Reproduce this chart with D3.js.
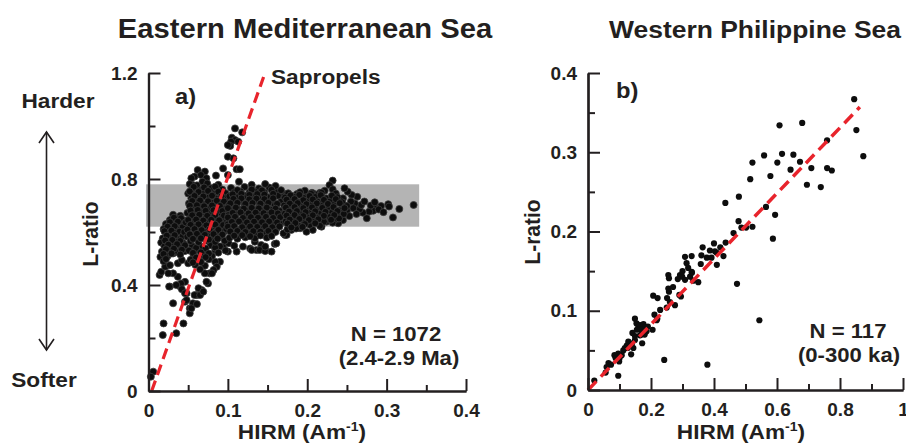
<!DOCTYPE html>
<html><head><meta charset="utf-8">
<script src="https://cdn.jsdelivr.net/npm/d3@7"></script>
<style>
body{margin:0;background:#fff}
svg{display:block}
text{font-family:"Liberation Sans",Arial,Helvetica,sans-serif;font-weight:bold;fill:#231f20}
</style>
</head><body>
<svg id="c" width="906" height="448"></svg>
<script>
// ---------- DATA ----------
// Panel a: Eastern Mediterranean Sea, [HIRM, L-ratio]
const emSparse = [
 [0.109,0.991],[0.118,0.976],[0.105,0.956],[0.109,0.947],[0.104,0.941],[0.113,0.941],[0.103,0.925],[0.100,0.928],
 [0.100,0.884],[0.107,0.878],[0.094,0.840],[0.111,0.837],[0.115,0.837],[0.100,0.815],[0.114,0.790],[0.085,0.813],
 [0.062,0.834],[0.071,0.828],[0.066,0.815],[0.058,0.809],[0.073,0.803],[0.068,0.790],[0.054,0.803],[0.056,0.777],
 [0.334,0.702],[0.316,0.687],[0.308,0.655],[0.302,0.705],[0.303,0.696],[0.293,0.698],[0.287,0.689],[0.283,0.680],
 [0.278,0.677],[0.275,0.652],[0.270,0.673],[0.266,0.686],[0.268,0.702],[0.263,0.733],[0.260,0.708],[0.256,0.740],
 [0.251,0.752],[0.247,0.765],[0.245,0.727],[0.232,0.794],[0.228,0.777],[0.232,0.761],[0.222,0.756],[0.216,0.748],
 [0.209,0.743],[0.206,0.748],[0.201,0.740],[0.197,0.756],[0.191,0.746],[0.187,0.743],[0.183,0.733],[0.177,0.727],
 [0.174,0.743],[0.170,0.733],[0.168,0.721],
 [0.245,0.645],[0.239,0.633],[0.232,0.635],[0.224,0.639],[0.218,0.620],[0.207,0.608],[0.199,0.601],[0.172,0.589],
 [0.182,0.620],[0.191,0.614],[0.174,0.589],[0.180,0.608],[0.170,0.595],
 [0.255,0.715],[0.258,0.690],[0.262,0.668],[0.250,0.680],[0.253,0.660],[0.272,0.715],[0.280,0.700],[0.285,0.712],
 [0.290,0.685],[0.296,0.675],[0.247,0.700],[0.243,0.685],[0.240,0.712],[0.236,0.745],[0.241,0.660],[0.237,0.650],
 [0.159,0.555],[0.147,0.532],[0.136,0.532],[0.128,0.538],[0.142,0.551],[0.119,0.545],[0.111,0.526],[0.100,0.526],
 [0.090,0.488],[0.084,0.488],[0.086,0.469],[0.077,0.444],[0.075,0.406],[0.067,0.381],[0.063,0.388],[0.061,0.362],
 [0.056,0.331],[0.052,0.312],[0.046,0.337],[0.048,0.369],[0.040,0.394],[0.037,0.431],[0.031,0.444],[0.027,0.394],
 [0.031,0.331],[0.019,0.255],[0.018,0.211],[0.035,0.218],[0.044,0.255],[0.006,0.073],[0.003,0.054],[0.052,0.293],
 [0.054,0.312],[0.061,0.328],[0.058,0.362],[0.065,0.362],[0.069,0.375],[0.073,0.412],[0.082,0.457],[0.080,0.444],
 [0.071,0.444],[0.046,0.412],[0.041,0.406],[0.035,0.400],[0.042,0.384],[0.046,0.369],[0.048,0.343],[0.026,0.394],
 [0.014,0.438],[0.016,0.450],[0.025,0.444],[0.021,0.469],[0.027,0.475],[0.037,0.482],[0.042,0.494],[0.050,0.482],
 [0.021,0.507],[0.031,0.519],[0.130,0.532],[0.140,0.532],[0.147,0.528],
 [0.094,0.545],[0.101,0.558],[0.108,0.548],[0.097,0.530],[0.134,0.563],[0.147,0.545],[0.161,0.557],[0.155,0.526]
];
const emCoreLow = [
 [0.052,0.781],[0.061,0.776],[0.074,0.783],[0.088,0.778],[0.055,0.762],[0.066,0.758],[0.079,0.765],[0.093,0.760],
 [0.050,0.745],[0.059,0.741],[0.070,0.748],[0.083,0.743],[0.097,0.746],[0.054,0.727],[0.064,0.723],[0.075,0.730],
 [0.086,0.725],[0.099,0.729],[0.051,0.708],[0.060,0.712],[0.069,0.705],[0.080,0.710],[0.091,0.706],[0.056,0.690],
 [0.065,0.694],[0.074,0.688],[0.085,0.692],[0.096,0.689],[0.049,0.672],[0.058,0.669],[0.068,0.675],[0.078,0.670],
 [0.089,0.674],[0.099,0.671],[0.053,0.654],[0.062,0.657],[0.072,0.651],[0.082,0.656],[0.093,0.652],[0.047,0.636],
 [0.057,0.633],[0.066,0.639],[0.076,0.634],[0.087,0.638],[0.098,0.635],[0.051,0.618],[0.060,0.621],[0.070,0.615],
 [0.080,0.620],[0.091,0.616],[0.045,0.600],[0.055,0.603],[0.064,0.597],[0.074,0.602],[0.085,0.598],[0.095,0.601],
 [0.049,0.582],[0.058,0.585],[0.068,0.579],[0.079,0.584],[0.090,0.580],[0.053,0.566],[0.063,0.562],[0.073,0.568],
 [0.084,0.563],[0.096,0.567],
 [0.057,0.770],[0.070,0.768],[0.084,0.771],[0.052,0.753],[0.063,0.751],[0.075,0.755],[0.088,0.752],
 [0.058,0.736],[0.069,0.734],[0.080,0.737],[0.092,0.735],[0.055,0.717],[0.065,0.719],[0.075,0.716],[0.086,0.718],
 [0.095,0.715],[0.052,0.699],[0.061,0.701],[0.070,0.697],[0.080,0.700],[0.090,0.698],[0.053,0.681],[0.062,0.683],
 [0.072,0.680],[0.082,0.682],[0.093,0.679],[0.055,0.663],[0.064,0.665],[0.074,0.661],[0.084,0.664],[0.095,0.662],
 [0.050,0.645],[0.060,0.647],[0.069,0.643],[0.079,0.646],[0.089,0.644],[0.053,0.627],[0.063,0.629],[0.073,0.625],
 [0.084,0.628],[0.094,0.626],[0.049,0.609],[0.058,0.611],[0.067,0.607],[0.077,0.610],[0.088,0.608],[0.098,0.611],
 [0.052,0.591],[0.061,0.593],[0.071,0.589],[0.082,0.592],[0.093,0.590],[0.056,0.574],[0.066,0.576],[0.076,0.572],
 [0.087,0.575]
];
const emCoreMid = [
 [0.104,0.766],[0.121,0.770],[0.139,0.764],[0.152,0.768],[0.108,0.750],[0.116,0.753],[0.127,0.748],[0.134,0.752],
 [0.146,0.749],[0.160,0.753],[0.102,0.735],[0.112,0.731],[0.122,0.737],[0.131,0.733],[0.141,0.736],[0.150,0.732],
 [0.163,0.737],[0.106,0.716],[0.117,0.719],[0.126,0.714],[0.136,0.718],[0.145,0.713],[0.155,0.717],[0.167,0.714],
 [0.101,0.700],[0.111,0.697],[0.121,0.702],[0.130,0.698],[0.140,0.701],[0.149,0.696],[0.159,0.700],[0.105,0.681],
 [0.115,0.684],[0.125,0.679],[0.134,0.683],[0.144,0.680],[0.154,0.684],[0.165,0.680],[0.101,0.664],[0.110,0.667],
 [0.120,0.662],[0.129,0.666],[0.139,0.663],[0.148,0.667],[0.158,0.662],[0.168,0.666],[0.104,0.646],[0.114,0.643],
 [0.124,0.648],[0.133,0.644],[0.143,0.647],[0.152,0.642],[0.162,0.646],[0.100,0.629],[0.109,0.632],[0.119,0.627],
 [0.128,0.631],[0.138,0.628],[0.147,0.632],[0.157,0.627],[0.166,0.631],[0.103,0.611],[0.113,0.608],[0.123,0.613],
 [0.132,0.609],[0.142,0.612],[0.151,0.607],[0.161,0.611],[0.107,0.594],[0.117,0.597],[0.127,0.592],[0.137,0.596],
 [0.146,0.593],[0.156,0.597],[0.102,0.578],[0.112,0.575],[0.122,0.580],[0.134,0.576],[0.149,0.579],
 [0.130,0.778],[0.147,0.781],[0.160,0.774],[0.167,0.758],
 [0.112,0.758],[0.130,0.760],[0.143,0.757],[0.155,0.759],[0.106,0.742],[0.117,0.744],[0.127,0.740],[0.137,0.743],
 [0.146,0.741],[0.157,0.744],[0.107,0.725],[0.117,0.727],[0.127,0.723],[0.136,0.726],[0.146,0.724],[0.157,0.727],
 [0.103,0.708],[0.112,0.710],[0.122,0.706],[0.131,0.709],[0.141,0.707],[0.151,0.710],[0.162,0.706],[0.100,0.690],
 [0.110,0.692],[0.120,0.688],[0.130,0.691],[0.139,0.689],[0.149,0.692],[0.160,0.688],[0.106,0.672],[0.116,0.674],
 [0.126,0.670],[0.135,0.673],[0.145,0.671],[0.155,0.674],[0.163,0.670],[0.100,0.655],[0.109,0.657],[0.119,0.653],
 [0.129,0.656],[0.138,0.654],[0.148,0.657],[0.157,0.653],[0.166,0.656],[0.105,0.638],[0.114,0.640],[0.124,0.636],
 [0.133,0.639],[0.143,0.637],[0.152,0.640],[0.162,0.636],[0.100,0.620],[0.108,0.622],[0.118,0.618],[0.128,0.621],
 [0.137,0.619],[0.147,0.622],[0.156,0.618],[0.165,0.621],[0.103,0.602],[0.112,0.604],[0.122,0.600],[0.132,0.603],
 [0.141,0.601],[0.151,0.604],[0.160,0.600],[0.108,0.586],[0.118,0.588],[0.128,0.584],[0.141,0.587],[0.155,0.585]
];
const emCoreHigh = [
 [0.176,0.746],[0.191,0.750],[0.205,0.744],[0.218,0.748],[0.172,0.730],[0.183,0.733],[0.196,0.728],[0.210,0.732],
 [0.224,0.727],[0.238,0.731],[0.177,0.715],[0.188,0.712],[0.200,0.717],[0.214,0.713],[0.229,0.716],[0.244,0.712],
 [0.171,0.700],[0.182,0.703],[0.193,0.698],[0.205,0.702],[0.219,0.699],[0.234,0.703],[0.250,0.698],[0.176,0.685],
 [0.187,0.682],[0.198,0.687],[0.211,0.683],[0.226,0.686],[0.241,0.681],[0.172,0.670],[0.181,0.673],[0.192,0.668],
 [0.203,0.672],[0.216,0.669],[0.231,0.673],[0.246,0.668],[0.178,0.655],[0.189,0.652],[0.200,0.657],[0.213,0.653],
 [0.228,0.656],[0.240,0.651],[0.173,0.640],[0.184,0.643],[0.196,0.638],[0.208,0.642],[0.221,0.639],[0.179,0.625],
 [0.190,0.622],[0.203,0.627],[0.216,0.623],[0.175,0.610],[0.186,0.613],
 [0.179,0.738],[0.190,0.740],[0.203,0.736],[0.217,0.739],[0.231,0.737],[0.174,0.722],[0.184,0.724],[0.195,0.720],
 [0.207,0.723],[0.221,0.721],[0.236,0.724],[0.178,0.707],[0.188,0.709],[0.199,0.705],[0.212,0.708],[0.226,0.706],
 [0.241,0.709],[0.173,0.692],[0.184,0.694],[0.195,0.690],[0.206,0.693],[0.219,0.691],[0.233,0.694],[0.247,0.690],
 [0.177,0.677],[0.187,0.679],[0.198,0.675],[0.210,0.678],[0.223,0.676],[0.238,0.679],[0.174,0.662],[0.184,0.664],
 [0.195,0.660],[0.207,0.663],[0.221,0.661],[0.234,0.664],[0.178,0.647],[0.190,0.649],[0.202,0.645],[0.214,0.648],
 [0.230,0.646],[0.175,0.632],[0.185,0.634],[0.197,0.630],[0.210,0.633],[0.180,0.617],[0.194,0.619]
];
const emCoreLeft = [
 [0.031,0.665],[0.040,0.661],[0.027,0.645],[0.036,0.648],[0.045,0.643],[0.022,0.630],[0.032,0.627],[0.041,0.632],
 [0.019,0.611],[0.028,0.614],[0.038,0.609],[0.024,0.595],[0.034,0.598],[0.043,0.593],[0.018,0.576],[0.029,0.579],
 [0.039,0.574],[0.016,0.560],[0.025,0.557],[0.035,0.562],[0.044,0.558],[0.020,0.545],[0.031,0.548],[0.041,0.543],
 [0.017,0.526],[0.027,0.529],[0.037,0.524],[0.046,0.528],[0.015,0.506],[0.024,0.509],[0.019,0.490],
 [0.055,0.548],[0.066,0.545],[0.078,0.550],[0.090,0.546],[0.051,0.530],[0.061,0.533],[0.072,0.528],[0.084,0.532],
 [0.057,0.511],[0.068,0.514],[0.080,0.509],[0.053,0.495],[0.064,0.492],[0.076,0.497],[0.059,0.476],[0.071,0.473],
 [0.065,0.459],
 [0.032,0.654],[0.041,0.652],[0.027,0.637],[0.037,0.639],[0.046,0.635],[0.024,0.620],[0.033,0.622],[0.043,0.618],
 [0.020,0.603],[0.029,0.605],[0.039,0.601],[0.023,0.586],[0.033,0.588],[0.043,0.584],[0.021,0.568],[0.030,0.570],
 [0.040,0.566],[0.025,0.552],[0.036,0.554],[0.046,0.550],[0.022,0.535],[0.032,0.537],[0.042,0.533],[0.019,0.517],
 [0.029,0.519],[0.040,0.515],[0.022,0.498],
 [0.060,0.540],[0.072,0.538],[0.084,0.541],[0.056,0.521],[0.066,0.523],[0.076,0.519],[0.088,0.522],[0.060,0.503],
 [0.072,0.505],[0.056,0.485],[0.066,0.487]
];
// Panel b: Western Philippine Sea, [HIRM, L-ratio]
const wpsPoints = [
 [0.845,0.367],[0.852,0.328],[0.874,0.295],[0.608,0.334],[0.680,0.337],[0.759,0.315],[0.559,0.296],[0.616,0.298],
 [0.652,0.297],[0.522,0.287],[0.601,0.287],[0.673,0.288],[0.643,0.278],[0.709,0.280],[0.759,0.280],[0.774,0.277],
 [0.515,0.266],[0.579,0.270],[0.695,0.259],[0.739,0.256],[0.436,0.236],[0.479,0.244],[0.565,0.231],[0.594,0.221],
 [0.478,0.213],[0.487,0.205],[0.502,0.205],[0.522,0.206],[0.462,0.198],[0.587,0.191],[0.364,0.180],[0.308,0.168],
 [0.329,0.169],[0.387,0.176],[0.403,0.175],[0.430,0.169],[0.437,0.186],[0.377,0.167],[0.409,0.173],[0.392,0.167],
 [0.409,0.158],[0.358,0.159],[0.313,0.160],[0.318,0.154],[0.473,0.134],[0.350,0.136],[0.255,0.145],[0.257,0.141],
 [0.292,0.145],[0.299,0.143],[0.285,0.140],[0.308,0.139],[0.324,0.143],[0.334,0.138],[0.329,0.149],[0.255,0.128],
 [0.257,0.124],[0.251,0.116],[0.260,0.111],[0.276,0.107],[0.295,0.118],[0.207,0.119],[0.221,0.116],[0.229,0.101],
 [0.250,0.104],[0.211,0.095],[0.218,0.088],[0.205,0.076],[0.149,0.090],[0.154,0.084],[0.160,0.079],[0.165,0.082],
 [0.176,0.083],[0.181,0.079],[0.155,0.076],[0.168,0.076],[0.186,0.074],[0.141,0.072],[0.149,0.068],[0.165,0.069],
 [0.128,0.061],[0.139,0.057],[0.149,0.063],[0.172,0.059],[0.123,0.056],[0.126,0.053],[0.117,0.053],[0.137,0.045],
 [0.144,0.053],[0.107,0.044],[0.112,0.050],[0.096,0.046],[0.084,0.044],[0.088,0.040],[0.099,0.036],[0.065,0.034],
 [0.073,0.032],[0.059,0.029],[0.056,0.022],[0.096,0.018],[0.020,0.012],[0.242,0.038],[0.379,0.032],[0.544,0.088],
 [0.170,0.070],[0.190,0.080],[0.330,0.148],[0.220,0.090],[0.290,0.120],[0.400,0.185],[0.360,0.170],[0.130,0.060],
 [0.100,0.040],[0.270,0.130],[0.300,0.150],[0.420,0.180],[0.180,0.070]
];
const emBandY = [0.62, 0.78];
const emBandX = [-0.003, 0.341];
const emTrend = [[0.004, 0], [0.145, 1.185]];
const wpsTrend = [[0, 0], [0.863, 0.357]];
const emXMajor = [0, 0.1, 0.2, 0.3, 0.4];
const emXMinor = [0.05, 0.15, 0.25, 0.35];
const emYMajor = [0, 0.4, 0.8, 1.2];
const emYMinor = [0.2, 0.6, 1.0];
const wpsXMajor = [0, 0.2, 0.4, 0.6, 0.8, 1];
const wpsXMinor = [0.1, 0.3, 0.5, 0.7, 0.9];
const wpsYMajor = [0, 0.1, 0.2, 0.3, 0.4];
const wpsYMinor = [0.05, 0.15, 0.25, 0.35];

// ---------- DRAW ----------
const svg = d3.select('#c');
const INK = '#231f20', RED = '#e8242c';
const SX = 1.08;

function txt(x, y, s, size, anchor, rot) {
  const t = svg.append('text')
    .attr('transform', `translate(${x},${y}) scale(${SX},1)` + (rot ? ` rotate(${rot})` : ''))
    .attr('font-size', size).attr('text-anchor', anchor || 'start');
  t.text(s);
  return t;
}

function panel(xs, ys, xMaj, xMin, yMaj, yMin, pts, r, stroke, band, trend, dash, lw) {
  const g = svg.append('g');
  if (band) {
    g.append('rect')
      .attr('x', xs(band.x[0])).attr('width', xs(band.x[1]) - xs(band.x[0]))
      .attr('y', ys(band.y[1])).attr('height', ys(band.y[0]) - ys(band.y[1]))
      .attr('fill', '#b4b4b4');
  }
  g.append('g').selectAll('circle').data(pts).join('circle')
    .attr('cx', d => xs(d[0])).attr('cy', d => ys(d[1])).attr('r', r)
    .attr('fill', '#0d0d0d')
    .attr('stroke', stroke ? '#3c3c3c' : 'none').attr('stroke-width', 0.8);
  g.append('path').attr('d', d3.line().x(d => xs(d[0])).y(d => ys(d[1]))(trend))
    .attr('stroke', RED).attr('stroke-width', lw).attr('fill', 'none')
    .attr('stroke-dasharray', dash);
  const y0 = ys.range()[0], x0 = xs.range()[0];
  const fmt = v => v === 0 ? '0' : String(v);
  const xMinAx = g.append('g').attr('transform', `translate(0,${y0})`)
    .call(d3.axisBottom(xs).tickValues(xMin).tickSize(-6).tickSizeOuter(0).tickFormat(''));
  const xMajAx = g.append('g').attr('transform', `translate(0,${y0})`)
    .call(d3.axisBottom(xs).tickValues(xMaj).tickSize(-12).tickSizeOuter(0).tickPadding(13).tickFormat(fmt));
  const yMinAx = g.append('g').attr('transform', `translate(${x0},0)`)
    .call(d3.axisLeft(ys).tickValues(yMin).tickSize(-7).tickSizeOuter(0).tickFormat(''));
  const yMajAx = g.append('g').attr('transform', `translate(${x0},0)`)
    .call(d3.axisLeft(ys).tickValues(yMaj).tickSize(-12).tickSizeOuter(0).tickPadding(11).tickFormat(fmt));
  [xMinAx, xMajAx, yMinAx, yMajAx].forEach(a => {
    a.select('.domain').attr('stroke', INK).attr('stroke-width', 2.2);
    a.selectAll('.tick line').attr('stroke', INK).attr('stroke-width', 2);
    a.selectAll('.tick text').attr('font-size', 19).attr('font-family', '"Liberation Sans",Arial,sans-serif')
      .attr('font-weight', 'bold').attr('fill', INK);
  });
  return g;
}

const xa = d3.scaleLinear().domain([0, 0.4]).range([148.5, 466]);
const ya = d3.scaleLinear().domain([0, 1.2]).range([391, 73]);
const xb = d3.scaleLinear().domain([0, 1]).range([588, 903]);
const yb = d3.scaleLinear().domain([0, 0.4]).range([390, 73]);

const emPoints = emSparse.concat(emCoreLeft, emCoreLow, emCoreMid, emCoreHigh);
panel(xa, ya, emXMajor, emXMinor, emYMajor, emYMinor, emPoints, 3.5, true,
  {x: emBandX, y: emBandY}, emTrend, '11,6', 3.2);
panel(xb, yb, wpsXMajor, wpsXMinor, wpsYMajor, wpsYMinor, wpsPoints, 3.1, false,
  null, wpsTrend, '12,6.5', 3.5);

// titles
txt(305, 38, 'Eastern Mediterranean Sea', 27, 'middle');
txt(755, 38, 'Western Philippine Sea', 24.5, 'middle');
// panel a labels
txt(175, 104, 'a)', 22, 'start');
txt(271, 84, 'Sapropels', 21, 'start');
txt(98, 234, 'L-ratio', 21, 'middle', -90);
txt(396, 341, 'N = 1072', 20.5, 'middle');
txt(399, 365, '(2.4-2.9 Ma)', 20.5, 'middle');
const ha = txt(302, 439, 'HIRM (Am', 21, 'middle');
ha.append('tspan').attr('font-size', 13).attr('dy', -8).text('-1');
ha.append('tspan').attr('dy', 8).text(')');
// panel b labels
txt(616, 98, 'b)', 22, 'start');
txt(540, 232, 'L-ratio', 21, 'middle', -90);
txt(848, 338, 'N = 117', 20.5, 'middle');
txt(849, 362, '(0-300 ka)', 20.5, 'middle');
const hb = txt(741, 439, 'HIRM (Am', 21, 'middle');
hb.append('tspan').attr('font-size', 13).attr('dy', -8).text('-1');
hb.append('tspan').attr('dy', 8).text(')');
// hardness arrow
txt(58, 108, 'Harder', 21, 'middle');
txt(44, 387, 'Softer', 21, 'middle');
svg.append('line').attr('x1', 46.5).attr('x2', 46.5).attr('y1', 132).attr('y2', 350)
  .attr('stroke', INK).attr('stroke-width', 1.6);
svg.append('path').attr('d', 'M39,143 L46.5,132 L54,143 M39,339 L46.5,350 L54,339')
  .attr('stroke', INK).attr('stroke-width', 1.6).attr('fill', 'none');
</script>
</body></html>
